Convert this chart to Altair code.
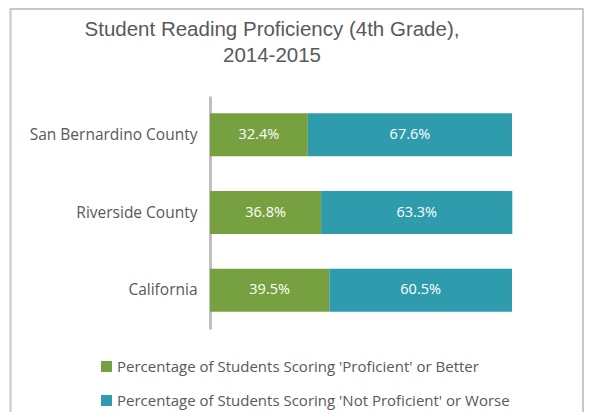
import altair as alt
import pandas as pd

regions = ["San Bernardino County", "Riverside County", "California"]
proficient = [32.4, 36.8, 39.5]
not_proficient = [67.6, 63.3, 60.5]
series = ["Percentage of Students Scoring 'Proficient' or Better",
          "Percentage of Students Scoring 'Not Proficient' or Worse"]
colors = ["#77A140", "#2E9CAD"]
title_lines = ["Student Reading Proficiency (4th Grade),", "2014-2015"]

rows = []
for r, p, n in zip(regions, proficient, not_proficient):
    rows.append({"region": r, "series": series[0], "value": p, "order": 0})
    rows.append({"region": r, "series": series[1], "value": n, "order": 1})
df = pd.DataFrame(rows)

LABEL_FONT = "Open Sans"
GRAY = "#595959"

base = alt.Chart(df).transform_stack(
    stack="value", groupby=["region"], as_=["x0", "x1"],
    sort=[alt.SortField("order", "ascending")]
).transform_calculate(
    mid="(datum.x0 + datum.x1) / 2",
    label="format(datum.value, '.1f') + '%'"
)

y_enc = alt.Y("region:N", sort=regions,
              scale=alt.Scale(paddingInner=0.447, paddingOuter=0.22),
              axis=alt.Axis(title=None, ticks=False, domainColor="#C0C0C0",
                            domainWidth=3, labelFont=LABEL_FONT, labelFontSize=15.5,
                            labelColor=GRAY, labelPadding=13, labelLimit=300))

bars = base.mark_bar().encode(
    x=alt.X("x0:Q", scale=alt.Scale(domain=[0, 100], nice=False, zero=True), axis=None),
    x2="x1:Q",
    y=y_enc,
    color=alt.Color("series:N", scale=alt.Scale(domain=series, range=colors),
                    legend=alt.Legend(orient="none", legendX=-111, legendY=263,
                                      title=None, symbolType="square", symbolSize=121,
                                      symbolStrokeWidth=0, labelFont=LABEL_FONT,
                                      labelFontSize=15, labelColor=GRAY, rowPadding=18,
                                      labelOffset=3, labelLimit=600, direction="vertical")),
)

labels = base.mark_text(color="white", font=LABEL_FONT, fontSize=14.5).encode(
    x=alt.X("mid:Q"),
    y=alt.Y("region:N", sort=regions),
    text="label:N",
)

border = alt.Chart(alt.Data(values=[{"a": 1}])).mark_rect(
    fillOpacity=0, stroke="#C8C8C8", strokeWidth=2, clip=False
).encode(x=alt.value(-199.5), x2=alt.value(373), y=alt.value(-87), y2=alt.value(400))

chart = alt.layer(border, bars, labels).properties(
    width=302, height=233,
    autosize=alt.AutoSizeParams(type="none"),
    padding={"left": 202, "top": 88, "right": 72, "bottom": 83},
    title=alt.TitleParams(text=title_lines, font="Liberation Sans", fontSize=20.5,
                          fontWeight="normal", color=GRAY, anchor="middle",
                          dx=-89, dy=62, lineHeight=26),
).configure_view(stroke=None)

chart.save("out.html", embed_options={"renderer": "svg", "actions": False})
